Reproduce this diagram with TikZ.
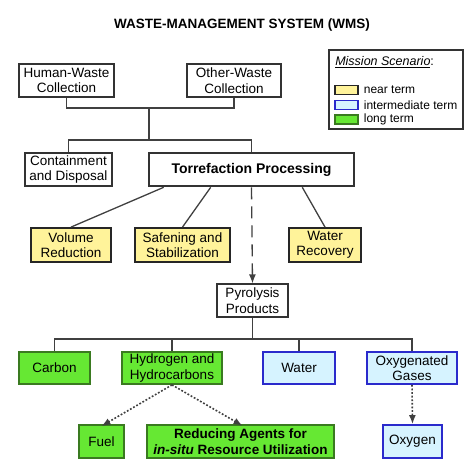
\documentclass[tikz,border=0pt]{standalone}
\usepackage{fontspec}
\setmainfont{Liberation Sans}
\usepackage{tikz}
\usetikzlibrary{arrows.meta,positioning}

\definecolor{nearfill}{HTML}{FFF39A}
\definecolor{midfill}{HTML}{D6F3FF}
\definecolor{middraw}{HTML}{2A2ACC}
\definecolor{longfill}{HTML}{66E833}
\definecolor{longdraw}{HTML}{3A7A20}

\begin{document}
\begin{tikzpicture}[
    x = 1pt, y = -1pt, % one unit = one pixel, y downwards
    >= {Latex[length=9pt,width=7pt]},
    semithick
    ]

    \tikzset{
    box/.style={draw = black!80, line width = 1.2pt, fill = white,
        minimum height = 33pt, inner sep = 0pt, align = center,
        font = \fontsize{13.5}{15.5}\selectfont},
    bigbox/.style={box, line width = 2.6pt},
    nearbox/.style={box, fill = nearfill, draw = black!85, line width = 1.8pt},
    midbox/.style={box, fill = midfill, draw = middraw, line width = 1.8pt},
    longbox/.style={box, fill = longfill, draw = longdraw, line width = 1.8pt},
    link/.style={draw = black!75, line width = 1.3pt},
    dashlink/.style={link, ->, dash pattern = on 12pt off 7pt},
    dotlink/.style={link, ->, line width = 1.6pt, dash pattern = on 1.8pt off 1.8pt},
    swatch/.style={draw, line width = 1.2pt, minimum width = 23pt, minimum height = 9pt, inner sep = 0pt},
    legtext/.style={font = \fontsize{12}{14}\selectfont, inner sep = 0pt, anchor = west}
    }
    \useasboundingbox (0,0) rectangle (474,474);

    % title
    \node[font = \fontsize{13.5}{15.5}\selectfont\bfseries] (title) at (242,25) {WASTE-MANAGEMENT SYSTEM (WMS)};

    % collection
    \node[box, minimum width = 95pt] (hw) at (66.5,80.5) {Human-Waste\\Collection};
    \node[box, minimum width = 94pt] (ow) at (234,80.5) {Other-Waste\\Collection};
    \node[box, minimum width = 87pt] (cd) at (68.5,169.5) {Containment\\and Disposal};
    \node[bigbox, minimum width = 205pt, font = \fontsize{14}{16}\selectfont\bfseries] (tp) at (251.5,169.5) {Torrefaction Processing};

    % near term
    \node[nearbox, minimum width = 80pt, minimum height = 34pt] (vr) at (71,245) {Volume\\Reduction};
    \node[nearbox, minimum width = 95pt, minimum height = 34pt] (ss) at (182.5,245) {Safening and\\Stabilization};
    \node[nearbox, minimum width = 72pt, minimum height = 34pt] (wr) at (325,245) {Water\\Recovery};

    \node[box, minimum width = 71pt] (pp) at (252.5,300.5) {Pyrolysis\\Products};

    % products
    \node[longbox, minimum width = 71pt, minimum height = 32pt] (ca) at (54.5,368) {Carbon};
    \node[longbox, minimum width = 100pt, minimum height = 32pt] (hh) at (172,368) {Hydrogen and\\Hydrocarbons};
    \node[midbox, minimum width = 72pt, minimum height = 32pt] (wa) at (299,368) {Water};
    \node[midbox, minimum width = 90pt, minimum height = 32pt] (og) at (412,368) {Oxygenated\\Gases};

    \node[longbox, minimum width = 45pt] (fu) at (101.5,441.5) {Fuel};
    \node[longbox, minimum width = 187pt, line width = 2.6pt, font = \fontsize{13.5}{15.5}\selectfont\bfseries] (ra) at (240.5,441.5) {Reducing Agents for\\\textit{in-situ} Resource Utilization};
    \node[midbox, minimum width = 59pt] (ox) at (412.5,441.5) {Oxygen};

    % legend
    \node[draw = black!80, line width = 1.2pt, minimum width = 134pt, minimum height = 79pt, inner sep = 0pt] (leg) at (396,89.5) {};
    \node[legtext, font = \fontsize{12.5}{14}\selectfont] (legt) at (335,62) {\underline{\textit{Mission Scenario}}:};
    \node[swatch, fill = nearfill, draw = black!85] (s1) at (346.5,90) {};
    \node[swatch, fill = midfill, draw = middraw] (s2) at (346.5,105) {};
    \node[swatch, fill = longfill, draw = longdraw] (s3) at (346.5,119.5) {};
    \node[legtext] (l1) [right = 5pt of s1] {near term};
    \node[legtext] (l2) [right = 5pt of s2] {intermediate term};
    \node[legtext] (l3) [right = 5pt of s3] {long term};

    % tree
    \coordinate (j1) at (149,108);
    \coordinate (j2) at (149,140);
    \coordinate (j3) at (252.5,339);
    \draw[link] (hw.south) |- (j1) -| (ow.south);
    \draw[link] (j1) -- (j2);
    \draw[link] (cd.north) |- (j2) -| (tp.north);

    \draw[link] ([xshift = 16pt]tp.south west) -- (vr.north);
    \draw[link] ([xshift = 63pt]tp.south west) -- (ss.north);
    \draw[link] ([xshift = -53pt]tp.south east) -- (wr.north);
    \draw[dashlink] (tp.south) -- (pp.north);

    \draw[link] (pp.south) -- (j3);
    \draw[link] (ca.north) |- (j3) -| (og.north);
    \draw[link] (hh.north) -- (hh.north |- j3);
    \draw[link] (wa.north) -- (wa.north |- j3);

    \draw[dotlink] (hh.south) -- ([yshift = -2pt]fu.north);
    \draw[dotlink] (hh.south) -- ([xshift = 2pt, yshift = -2pt]ra.north);
    \draw[dotlink] (og.south) -- (ox.north);
\end{tikzpicture}
\end{document}
